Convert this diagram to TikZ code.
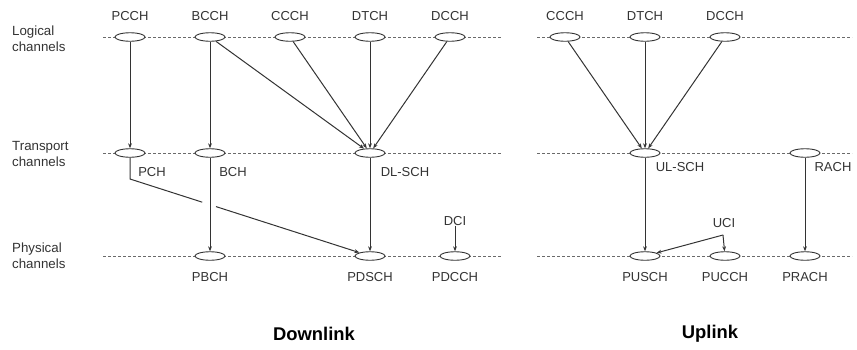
\documentclass[tikz,border=0pt]{standalone}
\usepackage{fontspec}
\setmainfont{Liberation Sans}
\usetikzlibrary{arrows.meta,calc,shapes.geometric}
\definecolor{ink}{HTML}{333333}
\definecolor{levelgray}{HTML}{6A6A6A}
\begin{document}
\begin{tikzpicture}[x=1pt,y=-1pt,
  chan/.style={ellipse,draw=ink,fill=white,line width=0.9pt,minimum width=30pt,minimum height=8.5pt,inner sep=0pt},
  lbl/.style={text=ink,font=\fontsize{13}{15}\selectfont,inner sep=0pt},
  side/.style={text=ink,font=\fontsize{13.3}{16}\selectfont,align=left,anchor=west,inner sep=0pt},
  head/.style={text=black,font=\fontsize{18.4}{22}\selectfont\bfseries,inner sep=0pt},
  level/.style={draw=levelgray,line width=0.8pt,dash pattern=on 3pt off 2pt},
  conn/.style={draw=ink,line width=1pt,-{Stealth[length=5pt,width=3.8pt]}},
  plain/.style={draw=ink,line width=1pt}
]
\useasboundingbox (0,0) rectangle (857,349);
% level lines
\coordinate (dl1a) at (103,37);  \coordinate (dl1b) at (502,37);
\coordinate (dl2a) at (103,153); \coordinate (dl2b) at (502,153);
\coordinate (dl3a) at (103,256); \coordinate (dl3b) at (502,256);
\coordinate (ul1a) at (537,37);  \coordinate (ul1b) at (852,37);
\coordinate (ul2a) at (537,153); \coordinate (ul2b) at (852,153);
\coordinate (ul3a) at (537,256); \coordinate (ul3b) at (852,256);
\foreach \a/\b in {dl1a/dl1b,dl2a/dl2b,dl3a/dl3b,ul1a/ul1b,ul2a/ul2b,ul3a/ul3b}
  \draw[level] (\a) -- (\b);
% side labels
\node[side] (lg) at (12,39) {Logical\\channels};
\node[side] (tr) at (12,153.5) {Transport\\channels};
\node[side] (ph) at (12,256) {Physical\\channels};
% downlink channels
\node[chan] (pcch) at (130,37) {};
\node[chan] (bcch) at (210,37) {};
\node[chan] (cccha) at (290,37) {};
\node[chan] (dtcha) at (370,37) {};
\node[chan] (dccha) at (450,37) {};
\node[chan] (pch) at (130,153) {};
\node[chan] (bch) at (210,153) {};
\node[chan] (dlsch) at (370,153) {};
\node[chan] (pbch) at (210,256) {};
\node[chan] (pdsch) at (370,256) {};
\node[chan] (pdcch) at (455,256) {};
% uplink channels
\node[chan] (ccchb) at (565,37) {};
\node[chan] (dtchb) at (645,37) {};
\node[chan] (dcchb) at (725,37) {};
\node[chan] (ulsch) at (645,153) {};
\node[chan] (rach) at (805,153) {};
\node[chan] (pusch) at (645,256) {};
\node[chan] (pucch) at (725,256) {};
\node[chan] (prach) at (805,256) {};
% labels
\node[lbl] (lpcch) at (130,16) {PCCH};
\node[lbl] (lbcch) at (210,16) {BCCH};
\node[lbl] (lcccha) at (290,16) {CCCH};
\node[lbl] (ldtcha) at (370,16) {DTCH};
\node[lbl] (ldccha) at (450,16) {DCCH};
\node[lbl] (lpch) at (152,172) {PCH};
\node[lbl] (lbch) at (233,172) {BCH};
\node[lbl] (ldlsch) at (405,172) {DL-SCH};
\node[lbl] (lpbch) at (210,277) {PBCH};
\node[lbl] (lpdsch) at (370,277) {PDSCH};
\node[lbl] (lpdcch) at (455,277) {PDCCH};
\node[lbl] (dci) at (455,221) {DCI};
\node[lbl] (lccchb) at (565,16) {CCCH};
\node[lbl] (ldtchb) at (645,16) {DTCH};
\node[lbl] (ldcchb) at (725,16) {DCCH};
\node[lbl] (lulsch) at (680,167) {UL-SCH};
\node[lbl] (lrach) at (833,167) {RACH};
\node[lbl] (lpusch) at (645,277) {PUSCH};
\node[lbl] (lpucch) at (725,277) {PUCCH};
\node[lbl] (lprach) at (805,277) {PRACH};
\node[lbl] (uci) at (724,223) {UCI};
\node[head] (hdl) at (314,334) {Downlink};
\node[head] (hul) at (710,334) {Uplink};
% downlink connectors
\draw[conn] (pcch) -- (pch);
\draw[conn] (bcch) -- (bch);
\draw[conn] (bcch) -- (dlsch);
\draw[conn] (cccha) -- (dlsch);
\draw[conn] (dtcha) -- (dlsch);
\draw[conn] (dccha) -- (dlsch);
\draw[conn] (bch) -- (pbch);
\draw[conn] (dlsch) -- (pdsch);
\draw[conn] (dci) -- (pdcch);
\coordinate (pchbend) at (130,179);
\path (pchbend) -- (pdsch) coordinate[pos=0.315] (gapa) coordinate[pos=0.375] (gapb);
\draw[plain] (pch) -- (pchbend) -- (gapa);
\draw[conn] (gapb) -- (pdsch);
% uplink connectors
\draw[conn] (ccchb) -- (ulsch);
\draw[conn] (dtchb) -- (ulsch);
\draw[conn] (dcchb) -- (ulsch);
\draw[conn] (ulsch) -- (pusch);
\draw[conn] (rach) -- (prach);
\coordinate (ucibend) at (723,235);
\draw[conn] (ucibend) -- (pusch);
\draw[conn] (ucibend) -- (pucch);
\end{tikzpicture}
\end{document}
